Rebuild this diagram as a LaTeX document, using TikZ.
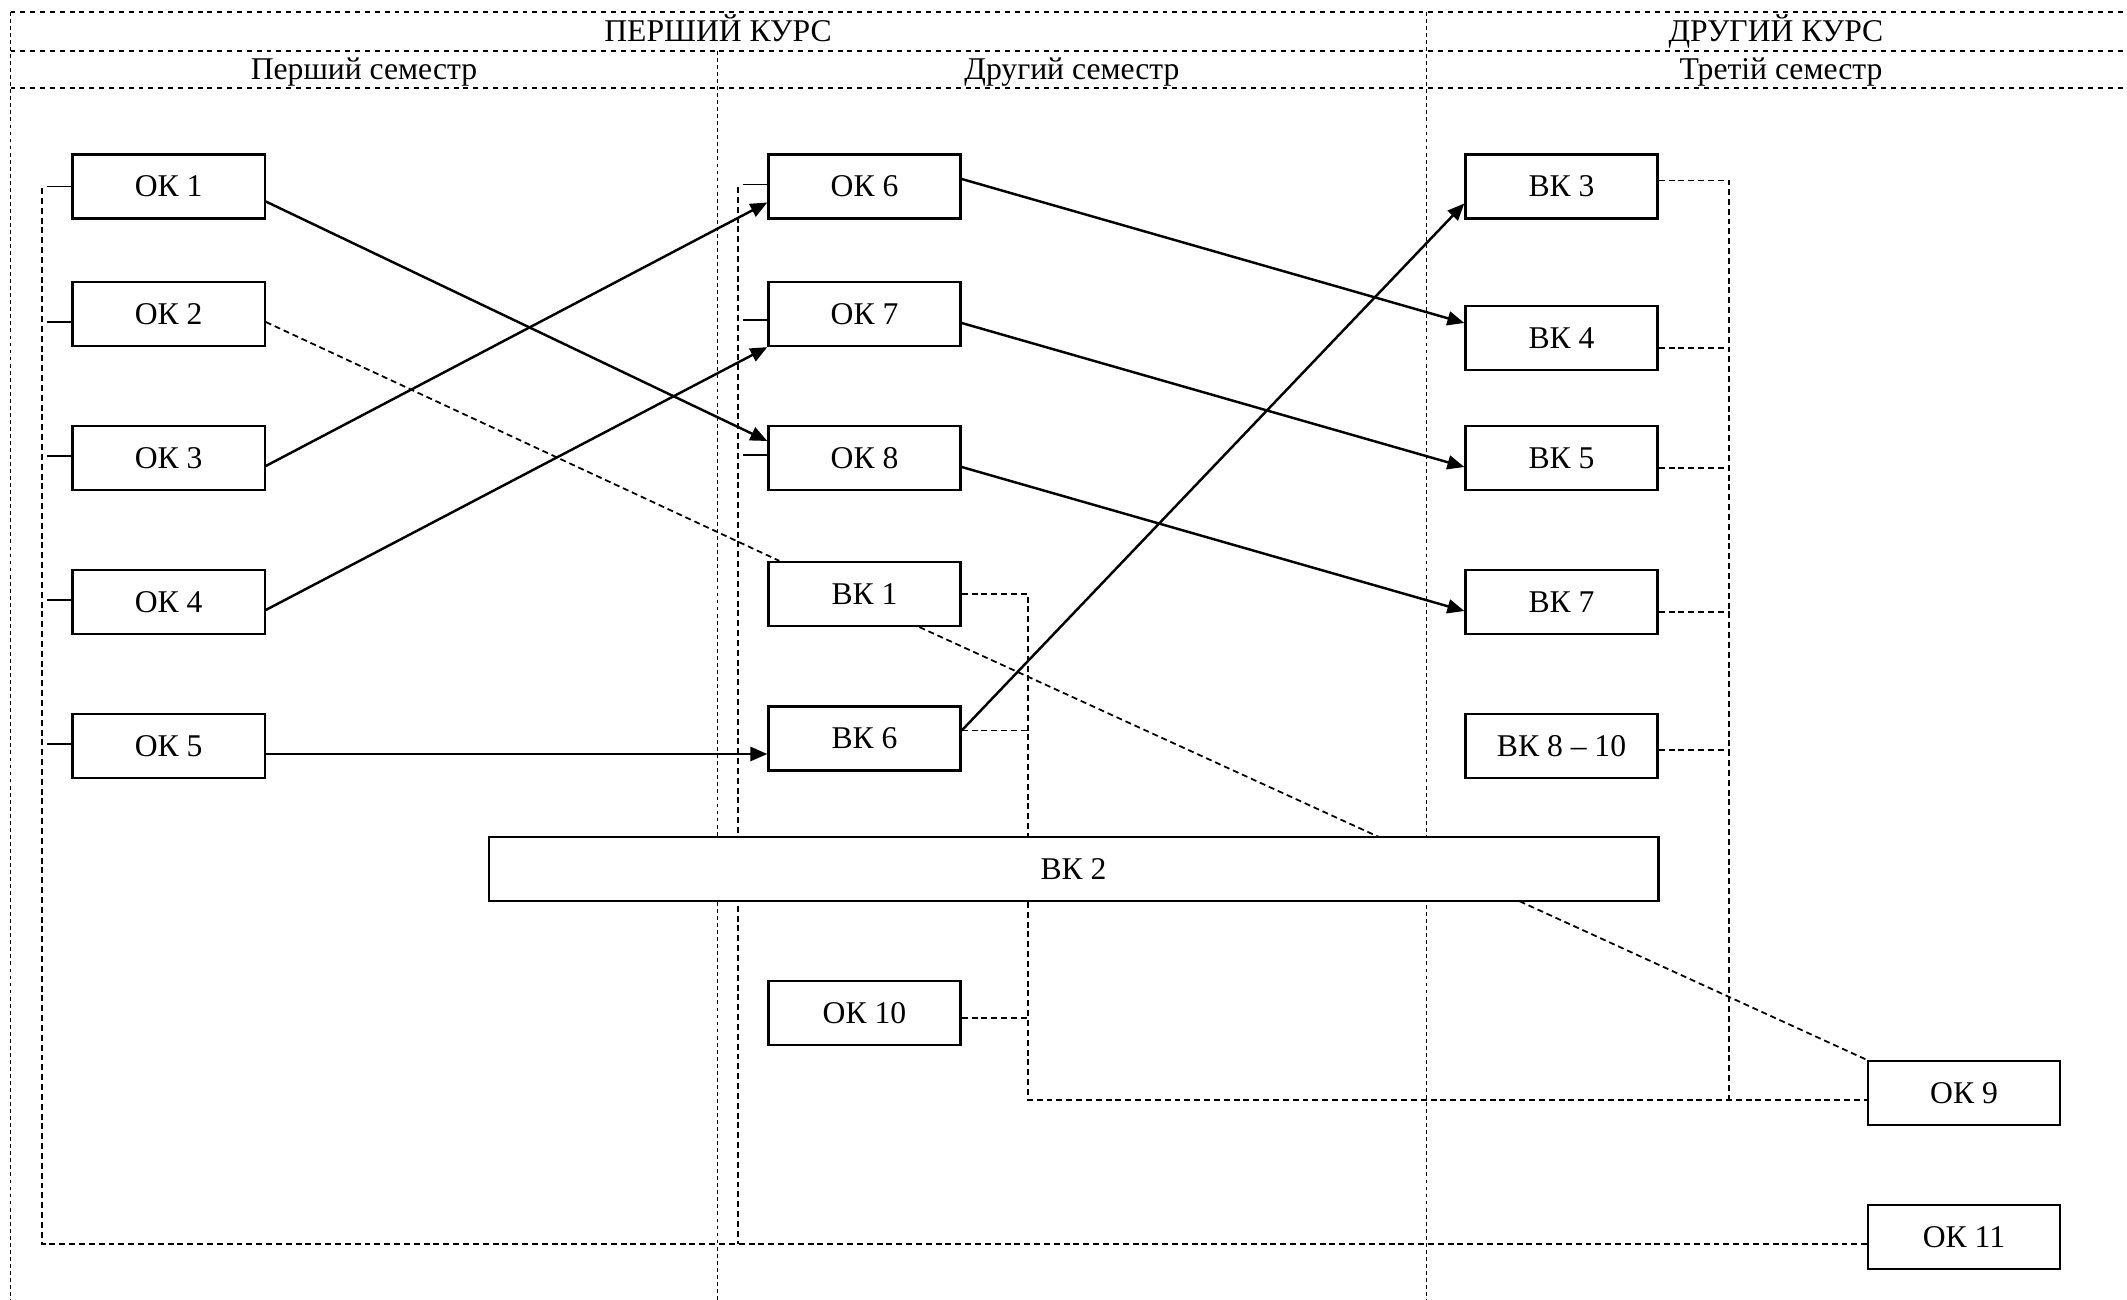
\documentclass[tikz,border=0pt]{standalone}
\usepackage{fontspec}
\setmainfont{Liberation Serif}
\usetikzlibrary{arrows.meta,calc,backgrounds}
\begin{document}
\begin{tikzpicture}[x=0.01cm,y=-0.01cm,
  box/.style={draw,line width=0.65pt,fill=white,minimum width=1.92cm,minimum height=0.64cm,inner sep=0pt,font=\fontsize{9}{10}\selectfont},
  hdr/.style={anchor=base,inner sep=0pt,font=\fontsize{9}{10}\selectfont},
  hline/.style={line width=0.55pt,dash pattern=on 1.4pt off 1.4pt},
  divider/.style={line width=0.45pt,dash pattern=on 1.1pt off 0.9pt},
  link/.style={line width=0.5pt,dash pattern=on 1.7pt off 1.1pt},
  stub/.style={line width=0.5pt},
  arr/.style={line width=0.7pt,-{Triangle[length=4.8pt,width=4pt]}}]
\useasboundingbox (0,0) rectangle (2127,1300);

% header texts
\node[hdr] (c1) at (718,42) {ПЕРШИЙ КУРС};
\node[hdr] (c2) at (1776,42) {ДРУГИЙ КУРС};
\node[hdr] (s1) at (364,80) {Перший семестр};
\node[hdr] (s2) at (1072,80) {Другий семестр};
\node[hdr] (s3) at (1781,80) {Третій семестр};

% column 1
\node[box] (ok1) at (168.6,186.5) {ОК 1};
\node[box] (ok2) at (168.6,314) {ОК 2};
\node[box] (ok3) at (168.6,458) {ОК 3};
\node[box] (ok4) at (168.6,602) {ОК 4};
\node[box] (ok5) at (168.6,746) {ОК 5};
% column 2
\node[box] (ok6) at (864.5,186.5) {ОК 6};
\node[box] (ok7) at (864.5,314) {ОК 7};
\node[box] (ok8) at (864.5,458) {ОК 8};
\node[box] (vk1) at (864.5,594) {ВК 1};
\node[box] (vk6) at (864.5,738.5) {ВК 6};
\node[box] (ok10) at (864.5,1013) {ОК 10};
% column 3
\node[box] (vk3) at (1561.5,186.5) {ВК 3};
\node[box] (vk4) at (1561.5,338) {ВК 4};
\node[box] (vk5) at (1561.5,458) {ВК 5};
\node[box] (vk7) at (1561.5,602) {ВК 7};
\node[box] (vk810) at (1561.5,746) {ВК 8 – 10};
% long and right boxes
\node[box,minimum width=11.69cm] (vk2) at (1073.5,869) {ВК 2};
\node[box] (ok9) at (1964,1093) {ОК 9};
\node[box] (ok11) at (1964,1237) {ОК 11};

% frame coordinates
\coordinate (tl) at (10.5,12);
\coordinate (tr) at (2127,12);
\coordinate (bl) at (10.5,1300);
\coordinate (m1l) at (10.5,51);
\coordinate (m1r) at (2127,51);
\coordinate (m2l) at (10.5,88);
\coordinate (m2r) at (2127,88);
\coordinate (d1t) at (717.6,51);
\coordinate (d1b) at (717.6,1300);
\coordinate (d2t) at (1426.3,12);
\coordinate (d2b) at (1426.3,1300);
% connector bend points
\coordinate (lb1) at (42,188);
\coordinate (lb2) at (42,1244);
\coordinate (mb1) at (738,187);
\coordinate (mb2) at (738,1244);
\coordinate (ja) at (1028,1100);
\coordinate (jb) at (1729,1100);

\begin{scope}[on background layer]
  \draw[hline] (tl) -- (tr);
  \draw[hline] (m1l) -- (m1r);
  \draw[hline] (m2l) -- (m2r);
  \draw[divider] (tl) -- (bl);
  \draw[divider] (d1t) -- (d1b);
  \draw[divider] (d2t) -- (d2b);
  % left brackets
  \draw[link] (lb1) -- (lb2) -- ($(ok11.west)+(0,7)$);
  \draw[link] (mb1) -- (mb2);
  % BK1 / BK6 / OK10 group to OK9
  \draw[link] (vk1.east) -| (ja) -- ($(ok9.west)+(0,7)$);
  \draw[link] ($(vk6.east)+(0,-8)$) -- +(67.3,0);
  \draw[link] ($(ok10.east)+(0,5)$) -- +(67.3,0);
  % column 3 group
  \draw[link] ($(vk3.east)+(0,-6)$) -| (jb);
  \draw[link] ($(vk4.east)+(0,10)$) -- +(71,0);
  \draw[link] ($(vk5.east)+(0,10)$) -- +(71,0);
  \draw[link] ($(vk7.east)+(0,10)$) -- +(71,0);
  \draw[link] ($(vk810.east)+(0,4)$) -- +(71,0);
  % diagonal dashed links
  \draw[link] ($(ok2.east)+(0,8)$) -- ($(vk1.north west)+(12,0)$);
  \draw[link] ($(vk1.south)+(55,0)$) -- (ok9.north west);
\end{scope}

% stubs
\draw[stub] (ok1.west) -- +(-24,0);
\draw[stub] ($(ok2.west)+(0,8)$) -- +(-24,0);
\draw[stub] ($(ok3.west)+(0,-2)$) -- +(-24,0);
\draw[stub] ($(ok4.west)+(0,-2)$) -- +(-24,0);
\draw[stub] ($(ok5.west)+(0,-2)$) -- +(-24,0);
\draw[stub] ($(ok6.west)+(0,-2)$) -- +(-24,0);
\draw[stub] ($(ok7.west)+(0,6)$) -- +(-24,0);
\draw[stub] ($(ok8.west)+(0,-3)$) -- +(-24,0);

% arrows
\draw[arr] ($(ok1.east)+(0,15)$) -- ($(ok8.west)+(0,-17)$);
\draw[arr] ($(ok3.east)+(0,8)$) -- ($(ok6.west)+(0,16)$);
\draw[arr] ($(ok4.east)+(0,8)$) -- (ok7.south west);
\draw[arr] ($(ok5.east)+(0,8)$) -- ($(vk6.west)+(0,15.5)$);
\draw[arr] ($(ok6.east)+(0,-7.5)$) -- ($(vk4.west)+(0,-15)$);
\draw[arr] ($(ok7.east)+(0,9)$) -- ($(vk5.west)+(0,9)$);
\draw[arr] ($(ok8.east)+(0,9)$) -- ($(vk7.west)+(0,9)$);
\draw[arr] ($(vk6.east)+(0,-8)$) -- ($(vk3.west)+(0,17)$);
\end{tikzpicture}
\end{document}
